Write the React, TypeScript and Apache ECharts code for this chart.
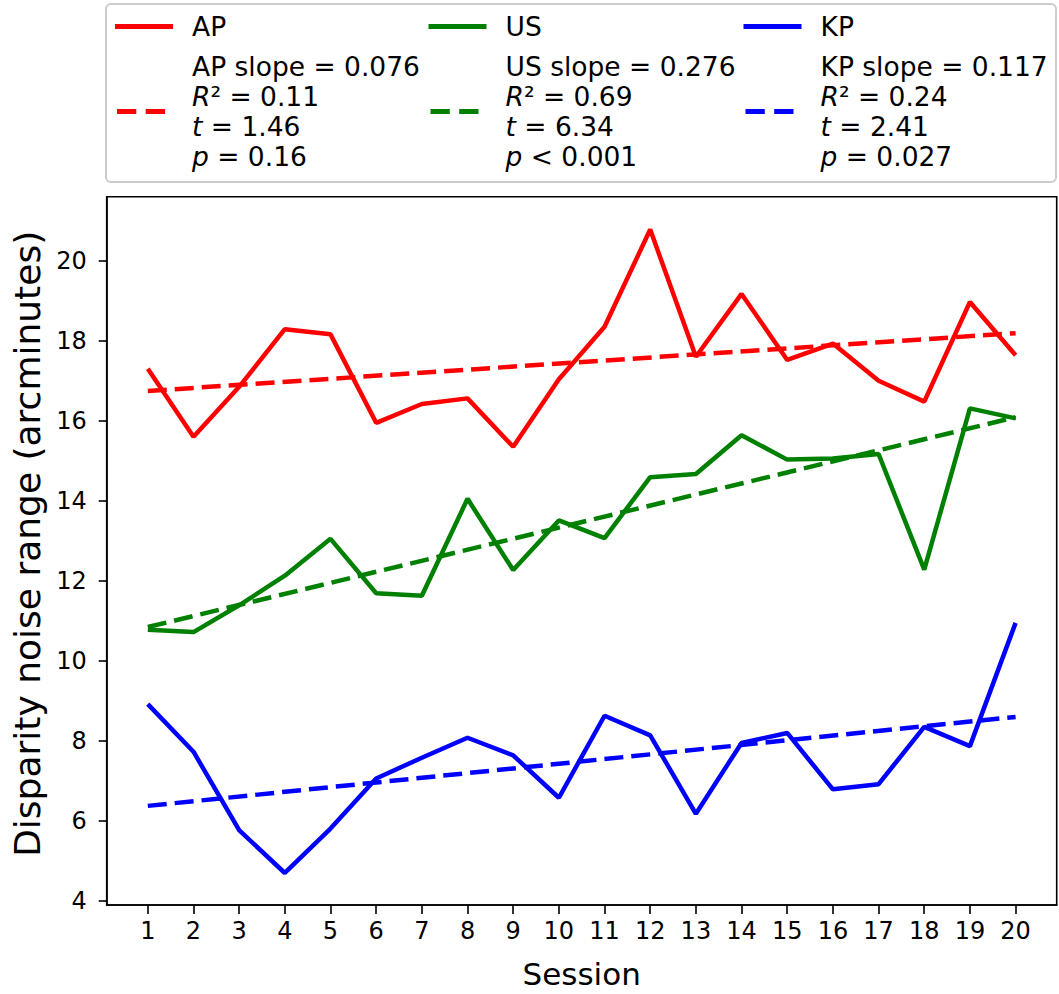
import React, { useEffect, useRef } from "react";
import * as echarts from "echarts";

// Session numbers on the x axis
const sessions = [1, 2, 3, 4, 5, 6, 7, 8, 9, 10, 11, 12, 13, 14, 15, 16, 17, 18, 19, 20];

// Disparity noise range per session (arcminutes)
const apValues = [17.3, 15.6, 16.85, 18.29, 18.16, 15.95, 16.42, 16.56, 15.35, 17.04, 18.35, 20.78, 17.6, 19.17, 17.52, 17.93, 17.0, 16.48, 18.97, 17.64];
const usValues = [10.78, 10.72, 11.39, 12.13, 13.05, 11.69, 11.63, 14.05, 12.27, 13.51, 13.07, 14.59, 14.67, 15.64, 15.03, 15.06, 15.17, 12.28, 16.31, 16.06];
const kpValues = [8.92, 7.73, 5.77, 4.7, 5.81, 7.06, 7.58, 8.08, 7.64, 6.58, 8.63, 8.14, 6.18, 7.95, 8.2, 6.79, 6.92, 8.35, 7.87, 10.95];

// Linear-fit statistics for each group
const groupNames = ["AP", "US", "KP"];
const groupColors = ["#ff0000", "#008000", "#0000ff"];
const fitSlopes = [0.076, 0.276, 0.117];
const fitIntercepts = [16.67, 10.57, 6.26];
const fitR2 = [0.11, 0.69, 0.24];
const fitT = [1.46, 6.34, 2.41];
const fitP = ["= 0.16", "< 0.001", "= 0.027"];

// Axis ticks
const yTicks = [4, 6, 8, 10, 12, 14, 16, 18, 20];
const xTicks = sessions;

const FONT = "DejaVu Sans";

// Legend handles: a solid bar and a two-dash bar, both 58 x 5
const SOLID_ICON = "path://M0,0H58V5H0Z";
const DASHED_ICON =
  "path://M0,2.5H0.01V2.51H0Z M2,0H21.3V5H2Z M30.7,0H50V5H30.7Z M57.99,2.5H58V2.51H57.99Z";

export default function App() {
  const ref = useRef<HTMLDivElement>(null);

  useEffect(() => {
    document.body.style.margin = "0";
    if (!ref.current) return;
    const chart = echarts.init(ref.current, undefined, { renderer: "svg" });

    const valueSets = [apValues, usValues, kpValues];
    const fitNames = groupNames.map((g) => g + " fit");

    const series: any[] = [];
    groupNames.forEach((name, gi) => {
      series.push({
        name,
        type: "line",
        data: sessions.map((s, i) => [s, valueSets[gi][i]]),
        symbol: "none",
        lineStyle: { color: groupColors[gi], width: 4.5 },
        itemStyle: { color: groupColors[gi] },
        z: 2,
      });
      const x0 = sessions[0];
      const x1 = sessions[sessions.length - 1];
      series.push({
        name: fitNames[gi],
        type: "line",
        data: [
          [x0, fitIntercepts[gi] + fitSlopes[gi] * x0],
          [x1, fitIntercepts[gi] + fitSlopes[gi] * x1],
        ],
        symbol: "none",
        lineStyle: { color: groupColors[gi], width: 4.5, type: [19, 8] },
        itemStyle: { color: groupColors[gi] },
        z: 3,
      });
    });

    const legendText = (name: string) => {
      const gi = fitNames.indexOf(name);
      if (gi < 0) return name;
      return [
        `${groupNames[gi]} slope = ${fitSlopes[gi].toFixed(3)}`,
        `{i|R}² = ${fitR2[gi].toFixed(2)}`,
        `{i|t} = ${fitT[gi].toFixed(2)}`,
        `{i|p} ${fitP[gi]}`,
      ].join("\n");
    };

    const legendLefts = [115, 428.5, 743.5];
    const legends = groupNames.map((name, gi) => ({
      orient: "vertical",
      left: legendLefts[gi],
      top: 11.5,
      padding: 0,
      itemGap: 10,
      itemWidth: 58,
      itemHeight: 5,
      selectedMode: false,
      itemStyle: { borderWidth: 0 },
      data: [
        { name, icon: SOLID_ICON },
        { name: fitNames[gi], icon: DASHED_ICON },
      ],
      formatter: legendText,
      textStyle: {
        fontFamily: FONT,
        fontSize: 26.5,
        lineHeight: 30,
        color: "#000",
        padding: [0, 0, 0, 14],
        rich: {
          i: { fontFamily: FONT, fontSize: 26.5, lineHeight: 30, fontStyle: "italic", color: "#000" },
        },
      },
    }));

    chart.setOption({
      animation: false,
      backgroundColor: "#ffffff",
      textStyle: { fontFamily: FONT },
      graphic: [
        {
          type: "rect",
          shape: { x: 106, y: 4, width: 950, height: 178, r: 5 },
          style: { fill: "#ffffff", stroke: "#cccccc", lineWidth: 2 },
          z: 0,
        },
      ],
      legend: legends,
      grid: {
        left: 106.7,
        top: 196.7,
        width: 950,
        height: 710,
        show: true,
        borderColor: "#000",
        borderWidth: 1.6,
        backgroundColor: "transparent",
      },
      xAxis: {
        type: "value",
        min: 0.1,
        max: 20.9,
        name: "Session",
        nameLocation: "middle",
        nameGap: 53,
        nameTextStyle: { fontFamily: FONT, fontSize: 31, color: "#000" },
        splitLine: { show: false },
        axisLine: { show: true, lineStyle: { color: "#000", width: 1.6 } },
        axisTick: { show: true, length: 9, lineStyle: { color: "#000", width: 1.6 }, customValues: xTicks },
        axisLabel: { fontFamily: FONT, fontSize: 24, color: "#000", margin: 14, customValues: xTicks },
      },
      yAxis: {
        type: "value",
        min: 3.9,
        max: 21.6,
        name: "Disparity noise range (arcminutes)",
        nameLocation: "middle",
        nameGap: 60,
        nameTextStyle: { fontFamily: FONT, fontSize: 36, color: "#000", padding: [0, 0, 0, 14] },
        splitLine: { show: false },
        axisLine: { show: true, lineStyle: { color: "#000", width: 1.6 } },
        axisTick: { show: true, length: 8, lineStyle: { color: "#000", width: 1.6 }, customValues: yTicks },
        axisLabel: { fontFamily: FONT, fontSize: 24, color: "#000", margin: 20, customValues: yTicks },
      },
      series,
    });

    return () => chart.dispose();
  }, []);

  return <div ref={ref} style={{ width: 1059, height: 994 }} />;
}
